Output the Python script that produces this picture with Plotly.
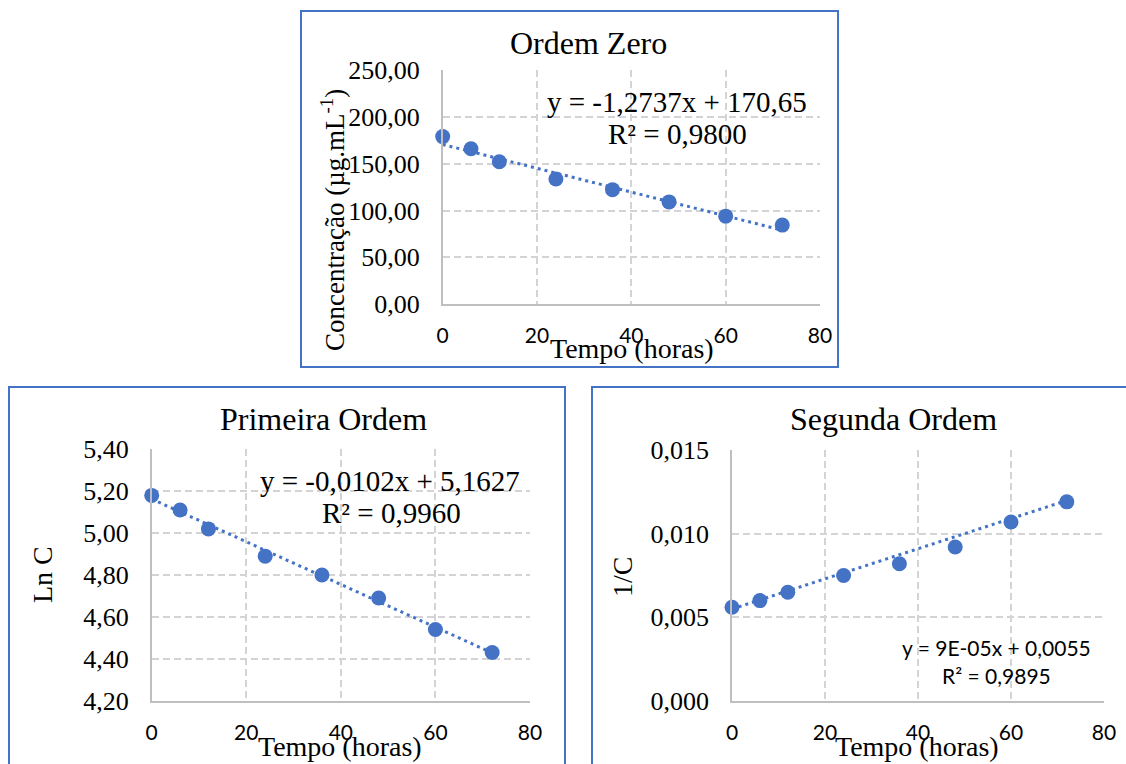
import plotly.graph_objects as go

# Kinetic study of concentration over time: zero, first and second order plots
tempo = [0, 6, 12, 24, 36, 48, 60, 72]
concentracao = [179.1, 166.0, 152.1, 133.7, 122.3, 109.2, 94.0, 84.4]
ln_c = [5.18, 5.11, 5.02, 4.89, 4.80, 4.69, 4.54, 4.43]
inv_c = [0.0056, 0.0060, 0.0065, 0.0075, 0.0082, 0.0092, 0.0107, 0.0119]

# Linear trend parameters (slope, intercept) and R² of each model
fit_zero = (-1.2737, 170.65)
fit_primeira = (-0.0102, 5.1627)
fit_segunda = (9e-05, 0.0055)
eq_zero = "y = -1,2737x + 170,65"
eq_primeira = "y = -0,0102x + 5,1627"
eq_segunda = "y = 9E-05x + 0,0055"
r2_zero = "0,9800"
r2_primeira = "0,9960"
r2_segunda = "0,9895"

x_ticks = [0, 20, 40, 60, 80]
y_ticks_zero = [0, 50, 100, 150, 200, 250]
y_ticks_primeira = [4.2, 4.4, 4.6, 4.8, 5.0, 5.2, 5.4]
y_ticks_segunda = [0.0, 0.005, 0.010, 0.015]

W, H = 1126, 764
BLUE = "#4472C4"
SERIF = "Liberation Serif"
SANS = "Lato"


def px(x):
    return x / W


def py(y):
    return 1 - y / H


def trend(fit):
    xs = [tempo[0], tempo[-1]]
    return xs, [fit[0] * x + fit[1] for x in xs]


fig = go.Figure()

panels = [
    ("", concentracao, fit_zero),
    ("2", ln_c, fit_primeira),
    ("3", inv_c, fit_segunda),
]
for suffix, ys, fit in panels:
    tx, ty = trend(fit)
    fig.add_trace(go.Scatter(
        x=tx, y=ty, mode="lines", xaxis="x" + suffix, yaxis="y" + suffix,
        line=dict(color=BLUE, width=3, dash="3px,4px"), showlegend=False,
        hoverinfo="skip",
    ))
    fig.add_trace(go.Scatter(
        x=tempo, y=ys, mode="markers", xaxis="x" + suffix, yaxis="y" + suffix,
        marker=dict(color=BLUE, size=15, line=dict(width=0)),
        cliponaxis=False, showlegend=False,
    ))

grid = dict(
    showgrid=True, gridcolor="#D4D4D4", gridwidth=1.5, griddash="7px,4px",
    showline=True, linecolor="#BFBFBF", linewidth=1.6, ticks="",
    zeroline=False, fixedrange=True, automargin=False,
)
xcommon = dict(grid, range=[0, 80], tickmode="array", tickvals=x_ticks,
               tickfont=dict(family=SANS, size=21, color="#000000"),
               ticklabelstandoff=12)
ycommon = dict(grid, tickmode="array",
               tickfont=dict(family=SERIF, size=26, color="#000000"),
               ticklabelstandoff=16)

fig.update_layout(
    template="none",
    width=W, height=H, margin=dict(l=0, r=0, t=0, b=0, pad=0, autoexpand=False),
    paper_bgcolor="white", plot_bgcolor="white", separators=",.",
    showlegend=False,
    xaxis=dict(xcommon, domain=[px(442.7), px(820)], anchor="y"),
    yaxis=dict(ycommon, domain=[py(304), py(70.3)], anchor="x",
               range=[0, 250], tickvals=y_ticks_zero, tickformat=".2f"),
    xaxis2=dict(xcommon, domain=[px(151.7), px(530)], anchor="y2"),
    yaxis2=dict(ycommon, domain=[py(700.7), py(449.3)], anchor="x2",
                range=[4.2, 5.4], tickvals=y_ticks_primeira, tickformat=".2f"),
    xaxis3=dict(xcommon, domain=[px(732), px(1104)], anchor="y3"),
    yaxis3=dict(ycommon, domain=[py(701), py(450)], anchor="x3",
                range=[0, 0.015], tickvals=y_ticks_segunda, tickformat=".3f"),
)

# Chart frames
frames = [(301, 11, 838, 367), (9, 387, 565, 790), (592, 387, 1140, 790)]
for x0, y0, x1, y1 in frames:
    fig.add_shape(type="rect", xref="paper", yref="paper",
                  x0=px(x0), x1=px(x1), y0=py(y1), y1=py(y0),
                  line=dict(color=BLUE, width=2), fillcolor="rgba(0,0,0,0)",
                  layer="above")


def label(text, x, y, size, family=SERIF, angle=0):
    fig.add_annotation(text=text, x=px(x), y=py(y), xref="paper", yref="paper",
                       xanchor="center", yanchor="middle", showarrow=False,
                       textangle=angle,
                       font=dict(family=family, size=size, color="#000000"))


# Titles
label("Ordem Zero", 588, 43, 32)
label("Primeira Ordem", 323, 419, 32)
label("Segunda Ordem", 893, 419, 32)

# Axis titles
label("Concentração (µg.mL<sup>-1</sup>)", 333, 220, 27, angle=-90)
label("Ln C", 42, 575, 28, angle=-90)
label("1/C", 622, 577, 28, angle=-90)
label("Tempo (horas)", 632, 348, 28)
label("Tempo (horas)", 340, 746, 28)
label("Tempo (horas)", 917, 746, 28)

# Trendline equations
label(eq_zero, 677, 102, 29)
label("R² = " + r2_zero, 677, 134, 29)
label(eq_primeira, 390, 481, 29)
label("R² = " + r2_primeira, 391, 513, 29)
label(eq_segunda, 996, 647, 21, family=SANS)
label("R² = " + r2_segunda, 996, 675, 21, family=SANS)

fig.write_html("out.html")
